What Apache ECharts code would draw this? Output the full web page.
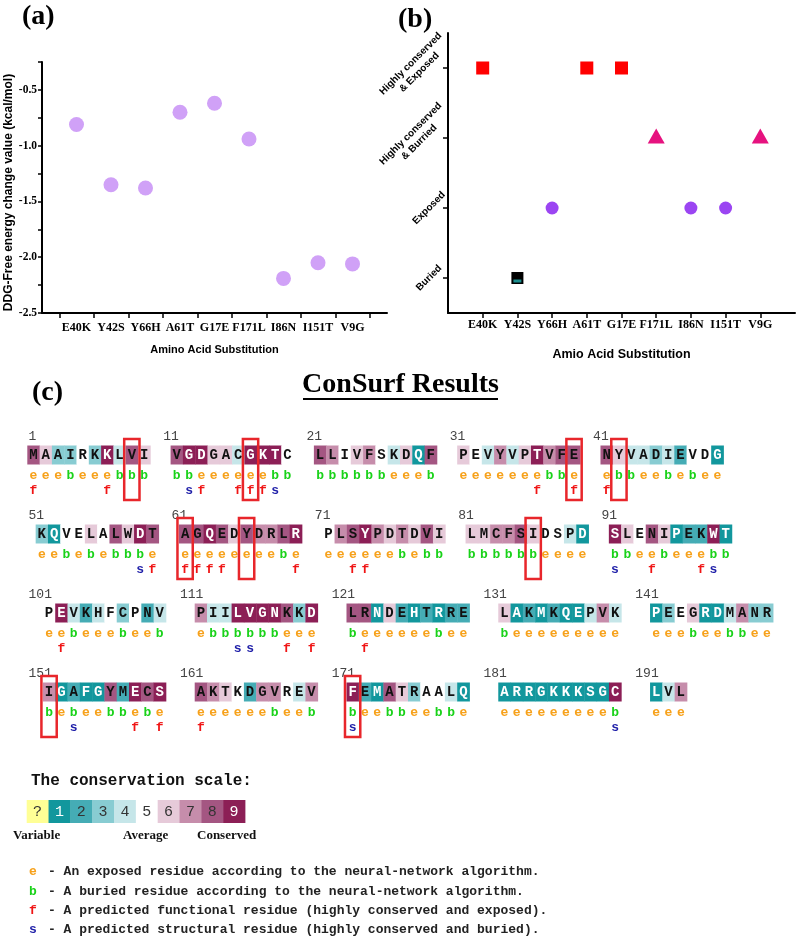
<!DOCTYPE html>
<html>
<head>
<meta charset="utf-8">
<title>DDG / ConSurf</title>
<script src="https://cdn.jsdelivr.net/npm/echarts@6/dist/echarts.min.js"></script>
<style>
  html, body { margin: 0; padding: 0; background: #fff; }
  #main { width: 797px; height: 938px; }
</style>
</head>
<body>
<div id="main"></div>
<script>
// mutations (same order on panels a and b)
var mutations = ['E40K', 'Y42S', 'Y66H', 'A61T', 'G17E', 'F171L', 'I86N', 'I151T', 'V9G'];
// panel a : DDG free energy change (kcal/mol)
var ddg = [-0.81, -1.35, -1.38, -0.70, -0.62, -0.94, -2.19, -2.05, -2.06];
// panel b : ConSurf class of each mutated residue (index into regionNames)
var regionNames = ['Buried', 'Exposed', 'Highly conserved\n& Burried', 'Highly conserved\n& Exposed'];
var region = [3, 0, 1, 3, 3, 2, 1, 1, 2];
var ddgTicks = [-2.5, -2.0, -1.5, -1.0, -0.5];

// panel c : ConSurf output
var sequence =
  'MAAIRKKLVI' + 'VGDGACGKTC' + 'LLIVFSKDQF' + 'PEVYVPTVFE' + 'NYVADIEVDG' +
  'KQVELALWDT' + 'AGQEDYDRLR' + 'PLSYPDTDVI' + 'LMCFSIDSPD' + 'SLENIPEKWT' +
  'PEVKHFCPNV' + 'PIILVGNKKD' + 'LRNDEHTRRE' + 'LAKMKQEPVK' + 'PEEGRDMANR' +
  'IGAFGYMECS' + 'AKTKDGVREV' + 'FEMATRAALQ' + 'ARRGKKKSGC' + 'LVL';
var grades = [
  8,6,3,3,5,3,9,4,8,6,  8,9,9,6,6,4,9,9,9,5,  8,7,5,6,7,5,4,6,1,8,  6,5,4,7,4,6,9,7,8,8,  8,6,4,4,3,4,2,5,5,1,
  3,1,5,5,6,5,8,6,9,8,  8,8,9,8,6,8,7,7,8,9,  5,7,8,9,7,6,7,6,8,6,  6,6,7,7,8,6,5,5,4,1,  9,6,5,8,6,1,2,2,9,1,
  5,9,4,2,4,5,3,5,2,4,  7,4,4,9,9,9,9,8,3,9,  8,8,1,6,2,1,2,1,2,2,  6,1,2,1,2,1,1,4,7,4,  1,3,5,6,1,1,4,7,3,3,
  7,1,2,1,1,8,2,9,8,9,  8,7,6,5,2,7,7,5,4,7,  9,2,1,8,6,3,5,5,4,1,  1,1,1,1,1,1,1,1,1,9,  1,4,7
];
var burial =
  'eeebeeebbb' + 'bbeeeeeebb' + 'bbbbbbeeeb' + 'eeeeeeebbe' + 'ebbeebebee' +
  'eebebebbbe' + 'eeeeeeeebe' + 'eeeeeebebb' + 'bbbbbbeeee' + 'bbeebeeebb' +
  'eebeeebeeb' + 'ebbbbbbeee' + 'beeeeeebee' + 'beeeeeeeee' + 'eeebeebbee' +
  'bebeebbebe' + 'eeeeeebeeb' + 'beebbeebbe' + 'eeeeeeeeeb' + 'eee';
var predicted =
  'f     f   ' + ' sf  fffs ' + '          ' + '      f  f' + 'f         ' +
  '        sf' + 'ffff     f' + '  ff      ' + '          ' + 's  f   fs ' +
  ' f        ' + '   ss  f f' + ' f        ' + '          ' + '          ' +
  '  s    f f' + 'f         ' + 's         ' + '         s' + '   ';
var scaleLabels = ['?', '1', '2', '3', '4', '5', '6', '7', '8', '9'];

// ---- layout / styles ----
var gradeColors = ['#FFFF96', '#12979D', '#45ACB5', '#88CCD2', '#C6E6E9', '#FFFFFF', '#E6CAD9', '#C68DAB', '#A45682', '#8C1F56'];
var codeColors = { e: '#F7A11A', b: '#19D219', f: '#F01414', s: '#1E1EA8' };
var rowStart = [0, 0.68, 1.27, 1.27];       // in cells
var blockStep = [11.65, 11.65, 12.34, 12.34];
var labelShift = [-0.6, -0.6, -1.2, -1.2];
var MONO = '"Liberation Mono", "DejaVu Sans Mono", monospace';
var SERIF = '"Liberation Serif", "DejaVu Serif", serif';
var SANS = '"Liberation Sans", Arial, sans-serif';

var residues = [];
for (var i = 0; i < sequence.length; i++) {
  var block = Math.floor(i / 10), row = Math.floor(block / 5), col = block % 5;
  residues.push({
    x: rowStart[row] + col * blockStep[row] + i % 10,
    row: row, res: sequence[i], grade: grades[i], burial: burial[i], pred: predicted[i]
  });
}
var blockLabels = [];
for (var b = 0; b * 10 < sequence.length; b++) {
  var r = Math.floor(b / 5);
  blockLabels.push({
    x: Math.max(0.1, rowStart[r] + (b % 5) * blockStep[r] + labelShift[r]),
    row: r, text: String(b * 10 + 1)
  });
}
var boxes = mutations.map(function (m) {
  var n = parseInt(m.slice(1, -1), 10);
  return residues[n - 1];
});

var halfTicks = [], mutPos = [];
for (var k = 0; k <= mutations.length; k++) halfTicks.push(k + 0.5);
mutations.forEach(function (m, i) { mutPos.push(i + 1); });
var quarterTicks = [];
for (var q = -2.5; q <= -0.25 + 1e-9; q += 0.25) quarterTicks.push(+q.toFixed(2));

function regionPoints(k) {
  var out = [];
  region.forEach(function (g, i) { if (g === k) out.push([i + 1, regionNames[k]]); });
  return out;
}

function renderResidue(params, api) {
  var r = residues[params.dataIndex];
  var p = api.coord([api.value(0), api.value(1)]);
  var w = api.size([1, 0])[0];
  var cx = p[0] + w / 2;
  var kids = [
    { type: 'rect', shape: { x: p[0], y: p[1] - 9.5, width: w + 0.4, height: 19 }, style: { fill: gradeColors[r.grade] } },
    { type: 'text', x: cx, y: p[1] + 0.5, style: { text: r.res, align: 'center', verticalAlign: 'middle', font: 'bold 14px ' + MONO, fill: (r.grade === 1 || r.grade === 9) ? '#ffffff' : '#111111' } },
    { type: 'text', x: cx, y: p[1] + 21, style: { text: r.burial, align: 'center', verticalAlign: 'middle', font: 'bold 13px ' + MONO, fill: codeColors[r.burial] } }
  ];
  if (r.pred !== ' ') {
    kids.push({ type: 'text', x: cx, y: p[1] + 36, style: { text: r.pred, align: 'center', verticalAlign: 'middle', font: 'bold 13px ' + MONO, fill: codeColors[r.pred] } });
  }
  return { type: 'group', children: kids };
}

function renderLabel(params, api) {
  var p = api.coord([api.value(0), api.value(1)]);
  return { type: 'text', x: p[0], y: p[1] - 18, style: { text: blockLabels[params.dataIndex].text, align: 'left', verticalAlign: 'middle', font: '13px ' + MONO, fill: '#444' } };
}

function renderBox(params, api) {
  var p = api.coord([api.value(0), api.value(1)]);
  var w = api.size([1, 0])[0];
  return { type: 'rect', shape: { x: p[0] - 1.5, y: p[1] - 16, width: w + 3, height: 61 }, style: { fill: 'none', stroke: '#E8262B', lineWidth: 2.5 }, z2: 10 };
}

function renderScale(params, api) {
  var idx = params.dataIndex;
  var p = api.coord([api.value(0), 1]);
  var s = api.size([1, 1]);
  return { type: 'group', children: [
    { type: 'rect', shape: { x: p[0], y: p[1], width: s[0] + 0.4, height: s[1] }, style: { fill: gradeColors[idx] } },
    { type: 'text', x: p[0] + s[0] / 2, y: p[1] + s[1] / 2 + 1, style: { text: scaleLabels[idx], align: 'center', verticalAlign: 'middle', font: '15px ' + MONO, fill: (idx === 1 || idx === 9) ? '#ffffff' : '#333333' } }
  ] };
}

var axisBlack = { color: '#000', width: 2 };
var legendLines = [
  ['e', '- An exposed residue according to the neural-network algorithm.'],
  ['b', '- A buried residue according to the neural-network algorithm.'],
  ['f', '- A predicted functional residue (highly conserved and exposed).'],
  ['s', '- A predicted structural residue (highly conserved and buried).']
];
var graphics = [
  { type: 'text', x: 22, y: 17, style: { text: '(a)', font: 'bold 28px ' + SERIF, fill: '#000', verticalAlign: 'middle' } },
  { type: 'text', x: 398, y: 20, style: { text: '(b)', font: 'bold 28px ' + SERIF, fill: '#000', verticalAlign: 'middle' } },
  { type: 'text', x: 32, y: 393, style: { text: '(c)', font: 'bold 28px ' + SERIF, fill: '#000', verticalAlign: 'middle' } },
  { type: 'text', x: 400.5, y: 385, style: { text: 'ConSurf Results', font: 'bold 28px ' + SERIF, fill: '#000', align: 'center', verticalAlign: 'middle' } },
  { type: 'line', shape: { x1: 303, y1: 399, x2: 498, y2: 399 }, style: { stroke: '#000', lineWidth: 2 } },
  { type: 'text', x: 31, y: 781, style: { text: 'The conservation scale:', font: 'bold 16px ' + MONO, fill: '#111', verticalAlign: 'middle' } },
  { type: 'text', x: 13, y: 836, style: { text: 'Variable', font: 'bold 13px ' + SERIF, fill: '#111', verticalAlign: 'middle' } },
  { type: 'text', x: 123, y: 836, style: { text: 'Average', font: 'bold 13px ' + SERIF, fill: '#111', verticalAlign: 'middle' } },
  { type: 'text', x: 197, y: 836, style: { text: 'Conserved', font: 'bold 13px ' + SERIF, fill: '#111', verticalAlign: 'middle' } }
];
legendLines.forEach(function (l, i) {
  var y = 872 + i * 19.3;
  graphics.push({ type: 'text', x: 29, y: y, style: { text: l[0], font: 'bold 13px ' + MONO, fill: codeColors[l[0]], verticalAlign: 'middle' } });
  graphics.push({ type: 'text', x: 48, y: y, style: { text: l[1], font: 'bold 13px ' + MONO, fill: '#222', verticalAlign: 'middle' } });
});

var chart = echarts.init(document.getElementById('main'));
var option = {
  animation: false,
  backgroundColor: '#fff',
  graphic: graphics,
  grid: [
    { left: 42, top: 62, width: 345, height: 251 },
    { left: 448, top: 33, width: 347, height: 280 },
    { left: 27.3, top: 415.5, width: 762.6, height: 316 },
    { left: 26.7, top: 800, width: 218.3, height: 23 }
  ],
  xAxis: [
    {
      gridIndex: 0, type: 'value', min: 0, max: 10,
      axisLine: { show: true, onZero: false, lineStyle: axisBlack },
      axisTick: { show: true, customValues: halfTicks, length: 5, lineStyle: { color: '#000', width: 1.5 } },
      axisLabel: { customValues: mutPos, formatter: function (v) { return mutations[v - 1]; }, margin: 9, color: '#000', fontFamily: SERIF, fontWeight: 'bold', fontSize: 12 },
      splitLine: { show: false },
      name: 'Amino Acid Substitution', nameLocation: 'middle', nameGap: 31,
      nameTextStyle: { color: '#000', fontFamily: SANS, fontWeight: 'bold', fontSize: 11 }
    },
    {
      gridIndex: 1, type: 'value', min: 0, max: 10,
      axisLine: { show: true, onZero: false, lineStyle: axisBlack },
      axisTick: { show: true, customValues: mutPos, length: 5, lineStyle: { color: '#000', width: 1.5 } },
      axisLabel: { customValues: mutPos, formatter: function (v) { return mutations[v - 1]; }, margin: 6, color: '#000', fontFamily: SERIF, fontWeight: 'bold', fontSize: 12 },
      splitLine: { show: false },
      name: 'Amio Acid Substitution', nameLocation: 'middle', nameGap: 35,
      nameTextStyle: { color: '#000', fontFamily: SANS, fontWeight: 'bold', fontSize: 12.5 }
    },
    { gridIndex: 2, type: 'value', min: 0, max: 62, show: false },
    { gridIndex: 3, type: 'value', min: 0, max: 10, show: false }
  ],
  yAxis: [
    {
      gridIndex: 0, type: 'value', min: -2.5, max: -0.25,
      axisLine: { show: true, lineStyle: axisBlack },
      axisTick: { show: true, customValues: quarterTicks, length: 4, lineStyle: { color: '#000', width: 1.5 } },
      axisLabel: { customValues: ddgTicks, formatter: function (v) { return v.toFixed(1); }, margin: 5, color: '#000', fontFamily: SERIF, fontWeight: 'bold', fontSize: 11.5 },
      splitLine: { show: false },
      name: 'DDG-Free energy change value (kcal/mol)', nameLocation: 'middle', nameRotate: 90, nameGap: 27,
      nameTextStyle: { color: '#000', fontFamily: SANS, fontWeight: 'bold', fontSize: 12, padding: [0, 10, 0, 0] }
    },
    {
      gridIndex: 1, type: 'category', position: 'left', data: regionNames, boundaryGap: true,
      axisLine: { show: true, lineStyle: axisBlack },
      axisTick: { show: true, alignWithLabel: true, length: 5, lineStyle: { color: '#000', width: 1.5 } },
      axisLabel: {
        rotate: 45, align: 'center', verticalAlign: 'middle', margin: 19,
        formatter: function (v) { return v.indexOf('\n') >= 0 ? '' : v; },
        color: '#000', fontFamily: SANS, fontWeight: 'bold', fontSize: 10
      },
      splitLine: { show: false }
    },
    {
      gridIndex: 1, type: 'category', position: 'left', data: regionNames, boundaryGap: true,
      axisLine: { show: false }, axisTick: { show: false },
      axisLabel: {
        rotate: 45, align: 'center', verticalAlign: 'middle', margin: 33, lineHeight: 12,
        formatter: function (v) { return v.indexOf('\n') >= 0 ? v : ''; },
        color: '#000', fontFamily: SANS, fontWeight: 'bold', fontSize: 10
      },
      splitLine: { show: false }
    },
    { gridIndex: 2, type: 'value', min: -0.5, max: 3.5, inverse: true, show: false },
    { gridIndex: 3, type: 'value', min: 0, max: 1, show: false }
  ],
  series: [
    {
      type: 'scatter', xAxisIndex: 0, yAxisIndex: 0, symbolSize: 15,
      itemStyle: { color: '#D0A1F7', opacity: 1 },
      data: ddg.map(function (v, i) { return [i + 1, v]; })
    },
    { type: 'scatter', xAxisIndex: 1, yAxisIndex: 1, symbol: 'rect', symbolSize: 13, itemStyle: { color: '#FF0000', opacity: 1 }, data: regionPoints(3) },
    { type: 'scatter', xAxisIndex: 1, yAxisIndex: 1, symbol: 'triangle', symbolSize: [17, 15], symbolOffset: [0, -2], itemStyle: { color: '#E6127F', opacity: 1 }, data: regionPoints(2) },
    { type: 'scatter', xAxisIndex: 1, yAxisIndex: 1, symbol: 'circle', symbolSize: 13, itemStyle: { color: '#9B45F2', opacity: 1 }, data: regionPoints(1) },
    { type: 'scatter', xAxisIndex: 1, yAxisIndex: 1, symbol: 'rect', symbolSize: 12, itemStyle: { color: '#000', opacity: 1 }, data: regionPoints(0) },
    { type: 'scatter', xAxisIndex: 1, yAxisIndex: 1, symbol: 'rect', symbolSize: [8, 3], symbolOffset: [0, 3], z: 3, itemStyle: { color: '#1B8E8E', opacity: 1 }, data: regionPoints(0) },
    {
      type: 'custom', xAxisIndex: 2, yAxisIndex: 3, renderItem: renderResidue,
      data: residues.map(function (r) { return [r.x, r.row]; })
    },
    {
      type: 'custom', xAxisIndex: 2, yAxisIndex: 3, renderItem: renderLabel,
      data: blockLabels.map(function (l) { return [l.x, l.row]; })
    },
    {
      type: 'custom', xAxisIndex: 2, yAxisIndex: 3, renderItem: renderBox, z: 5,
      data: boxes.map(function (r) { return [r.x, r.row]; })
    },
    {
      type: 'custom', xAxisIndex: 3, yAxisIndex: 4, renderItem: renderScale,
      data: scaleLabels.map(function (s, i) { return [i, 0]; })
    }
  ]
};
chart.setOption(option);
</script>
</body>
</html>
